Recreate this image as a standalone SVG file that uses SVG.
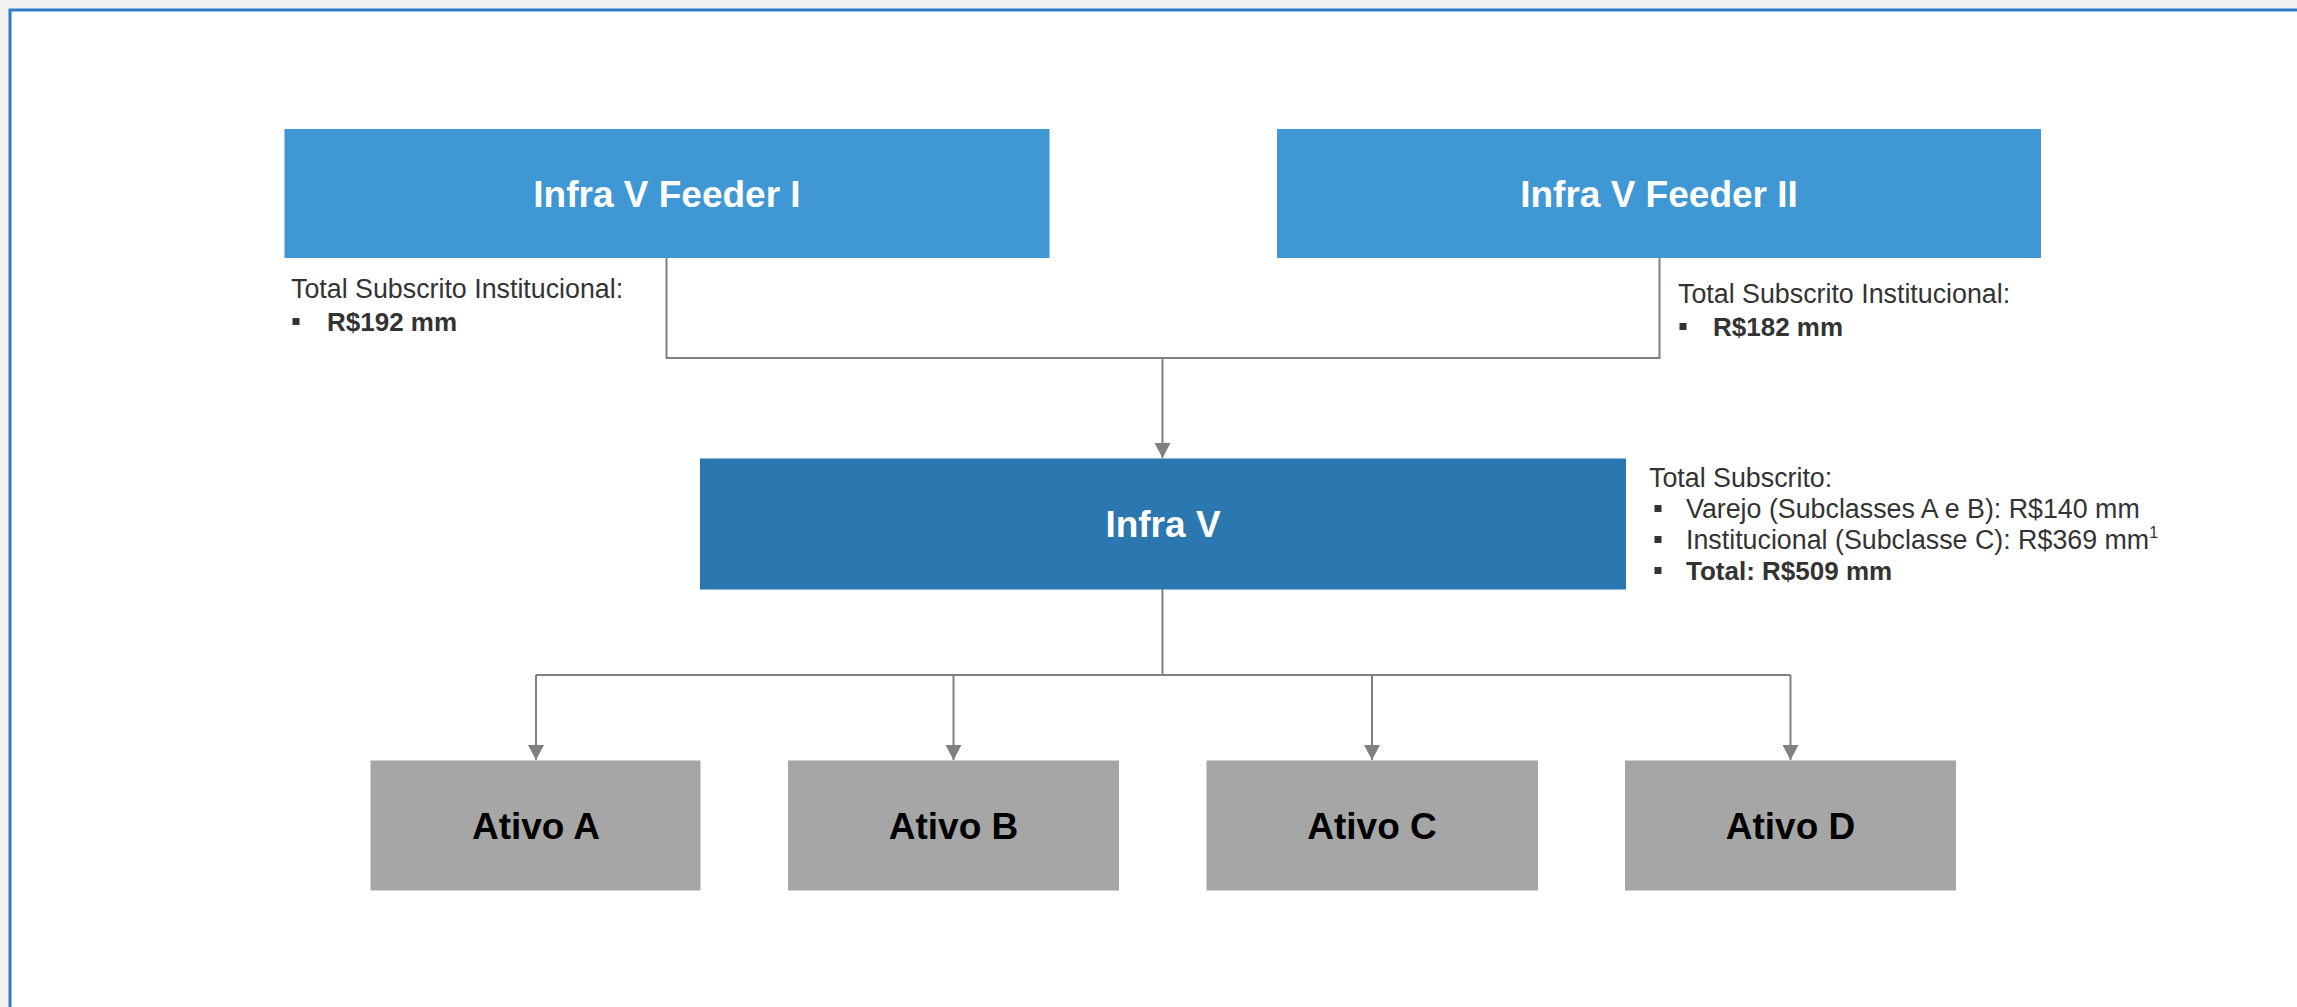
<svg xmlns="http://www.w3.org/2000/svg" width="2297" height="1007" viewBox="0 0 2297 1007">
  <defs>
    <style>
      .title { font-family: "Liberation Sans", Arial, sans-serif; font-weight: bold; font-size: 37px; text-anchor: middle; }
      .w { fill: #ffffff; }
      .k { fill: #000000; }
      .lbl { font-family: "Liberation Sans", Arial, sans-serif; font-size: 26.8px; fill: #333333; }
      .lblb { font-family: "Liberation Sans", Arial, sans-serif; font-size: 26px; font-weight: bold; fill: #333333; }
      .bul { fill: #333333; }
      .feeder { fill: #3F97D3; }
      .fund { fill: #2A78AF; }
      .asset { fill: #A6A6A6; }
      .conn { fill: none; stroke: #808080; stroke-width: 2; }
    </style>
    <marker id="arrow" markerUnits="userSpaceOnUse" markerWidth="16" markerHeight="16" refX="15" refY="8" orient="auto">
      <path d="M0,0 L15,8 L0,16 Z" fill="#808080"/>
    </marker>
  </defs>

  <rect x="0" y="0" width="2297" height="1007" fill="#f2f2f2"/>
  <rect x="10" y="10" width="2300" height="1010" fill="#ffffff" stroke="#2E7BC4" stroke-width="3"/>

  <g id="connectors">
    <path class="conn" d="M666.5 258 V358 H1659.5 V258"/>
    <path class="conn" d="M1162.5 358 V458" marker-end="url(#arrow)"/>
    <path class="conn" d="M1162.5 589 V675"/>
    <path class="conn" d="M536 675 H1790.5"/>
    <path class="conn" d="M536 675 V760" marker-end="url(#arrow)"/>
    <path class="conn" d="M953.5 675 V760" marker-end="url(#arrow)"/>
    <path class="conn" d="M1372 675 V760" marker-end="url(#arrow)"/>
    <path class="conn" d="M1790.5 675 V760" marker-end="url(#arrow)"/>
  </g>

  <g id="feeder1">
    <rect class="feeder" x="284.5" y="129" width="765" height="129"/>
    <text class="title w" x="667" y="207">Infra V Feeder I</text>
  </g>
  <g id="feeder1-label">
    <text class="lbl" x="291" y="298">Total Subscrito Institucional:</text>
    <rect class="bul" x="292.5" y="318" width="7" height="7"/>
    <text class="lblb" x="327" y="331">R$192 mm</text>
  </g>

  <g id="feeder2">
    <rect class="feeder" x="1277" y="129" width="764" height="129"/>
    <text class="title w" x="1659" y="207">Infra V Feeder II</text>
  </g>
  <g id="feeder2-label">
    <text class="lbl" x="1678" y="303">Total Subscrito Institucional:</text>
    <rect class="bul" x="1679.5" y="323" width="7" height="7"/>
    <text class="lblb" x="1713" y="336">R$182 mm</text>
  </g>

  <g id="infra-v">
    <rect class="fund" x="700" y="458.5" width="926" height="131"/>
    <text class="title w" x="1163" y="537">Infra V</text>
  </g>
  <g id="infra-v-label">
    <text class="lbl" x="1649" y="486.5">Total Subscrito:</text>
    <rect class="bul" x="1654.5" y="505" width="7" height="7"/>
    <text class="lbl" x="1686" y="518">Varejo (Subclasses A e B): R$140 mm</text>
    <rect class="bul" x="1654.5" y="536" width="7" height="7"/>
    <text class="lbl" x="1686" y="549">Institucional (Subclasse C): R$369 mm<tspan font-size="16" dy="-11">1</tspan></text>
    <rect class="bul" x="1654.5" y="567" width="7" height="7"/>
    <text class="lblb" x="1686" y="580">Total: R$509 mm</text>
  </g>

  <g id="ativo-a">
    <rect class="asset" x="370.5" y="760.5" width="330" height="130"/>
    <text class="title k" x="536" y="839">Ativo A</text>
  </g>
  <g id="ativo-b">
    <rect class="asset" x="788" y="760.5" width="331" height="130"/>
    <text class="title k" x="953.5" y="839">Ativo B</text>
  </g>
  <g id="ativo-c">
    <rect class="asset" x="1206.5" y="760.5" width="331.5" height="130"/>
    <text class="title k" x="1372" y="839">Ativo C</text>
  </g>
  <g id="ativo-d">
    <rect class="asset" x="1625" y="760.5" width="331" height="130"/>
    <text class="title k" x="1790.5" y="839">Ativo D</text>
  </g>
</svg>
